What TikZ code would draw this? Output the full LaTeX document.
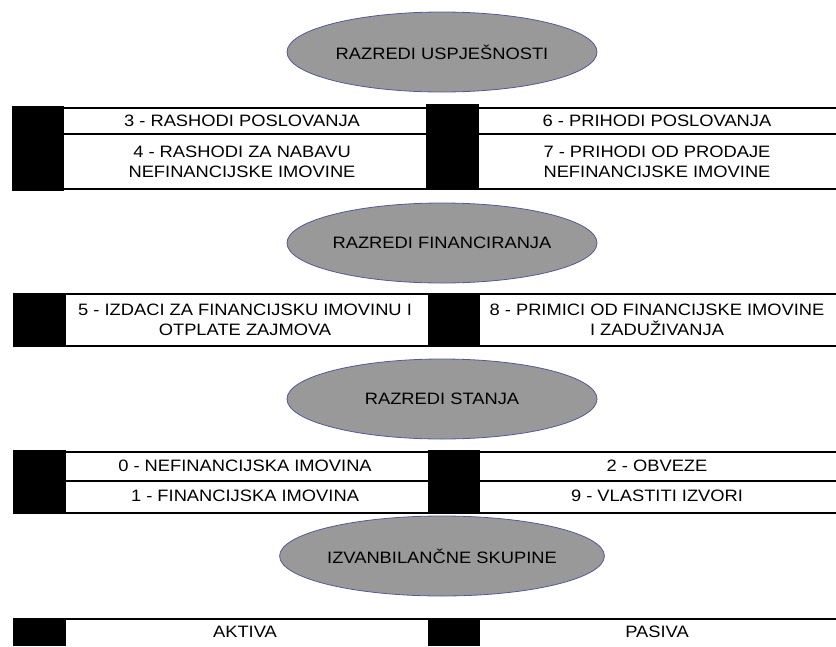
\documentclass[tikz,border=0pt]{standalone}
\usepackage{fontspec}
\setmainfont{Liberation Sans}[FakeStretch=1.11]
\usepackage{tikz}
\usetikzlibrary{shapes}
\usetikzlibrary{positioning}
\definecolor{ellfill}{RGB}{153,153,153}
\definecolor{ellline}{RGB}{88,88,150}
\tikzstyle{razred}=[shape=ellipse,draw=ellline,fill=ellfill,line width=0.8pt,minimum width=310pt,minimum height=80pt,inner sep=0pt,font=\fontsize{16.5}{20}\selectfont]
\tikzstyle{stavka}=[align=center,inner sep=0pt,font=\fontsize{16.5}{20}\selectfont]
\tikzstyle{crta}=[draw,line width=1.5pt]
\tikzstyle{blok}=[fill=black]

\begin{document}
\begin{tikzpicture}[x = 1pt, y = -1pt]
\useasboundingbox (0,0) rectangle (836,646);

% razredi uspjesnosti
\node[razred] (uspj) at (442,52) {RAZREDI USPJEŠNOSTI};
\fill[blok] (12,106) rectangle (64,191);
\fill[blok] (426,104) rectangle (479,190);
\draw[crta] (12,108) -- (836,108);
\draw[crta] (64,134) -- (426,134);
\draw[crta] (479,134) -- (836,134);
\draw[crta] (12,189) -- (836,189);
\node[stavka] (r3) at (242,121) {3 - RASHODI POSLOVANJA};
\node[stavka] (r4) at (242,162) {4 - RASHODI ZA NABAVU\\NEFINANCIJSKE IMOVINE};
\node[stavka] (r6) at (657,121) {6 - PRIHODI POSLOVANJA};
\node[stavka] (r7) at (657,162) {7 - PRIHODI OD PRODAJE\\NEFINANCIJSKE IMOVINE};

% razredi financiranja
\node[razred] (fin) at (442,243) {RAZREDI FINANCIRANJA};
\fill[blok] (13,293) rectangle (66,347);
\fill[blok] (428,293) rectangle (480,347);
\draw[crta] (13,294) -- (836,294);
\draw[crta] (13,346) -- (836,346);
\node[stavka] (r5) at (245,320) {5 - IZDACI ZA FINANCIJSKU IMOVINU I\\OTPLATE ZAJMOVA};
\node[stavka] (r8) at (657,320) {8 - PRIMICI OD FINANCIJSKE IMOVINE\\I ZADUŽIVANJA};

% razredi stanja
\node[razred] (stanje) at (442,399) {RAZREDI STANJA};
\fill[blok] (13,450) rectangle (66,514);
\fill[blok] (428,450) rectangle (480,514);
\draw[crta] (13,452) -- (836,452);
\draw[crta] (66,481) -- (428,481);
\draw[crta] (480,481) -- (836,481);
\draw[crta] (13,513) -- (836,513);
\node[stavka] (r0) at (245,466) {0 - NEFINANCIJSKA IMOVINA};
\node[stavka] (r1) at (245,496) {1 - FINANCIJSKA IMOVINA};
\node[stavka] (r2) at (657,466) {2 - OBVEZE};
\node[stavka] (r9) at (657,496) {9 - VLASTITI IZVORI};

% izvanbilancne skupine
\node[razred] (izvan) at (442,556) {IZVANBILANČNE SKUPINE};
\fill[blok] (13,618) rectangle (66,646);
\fill[blok] (428,618) rectangle (480,646);
\draw[crta] (13,619) -- (836,619);
\node[stavka] (akt) at (245,632) {AKTIVA};
\node[stavka] (pas) at (657,632) {PASIVA};
\end{tikzpicture}
\end{document}
